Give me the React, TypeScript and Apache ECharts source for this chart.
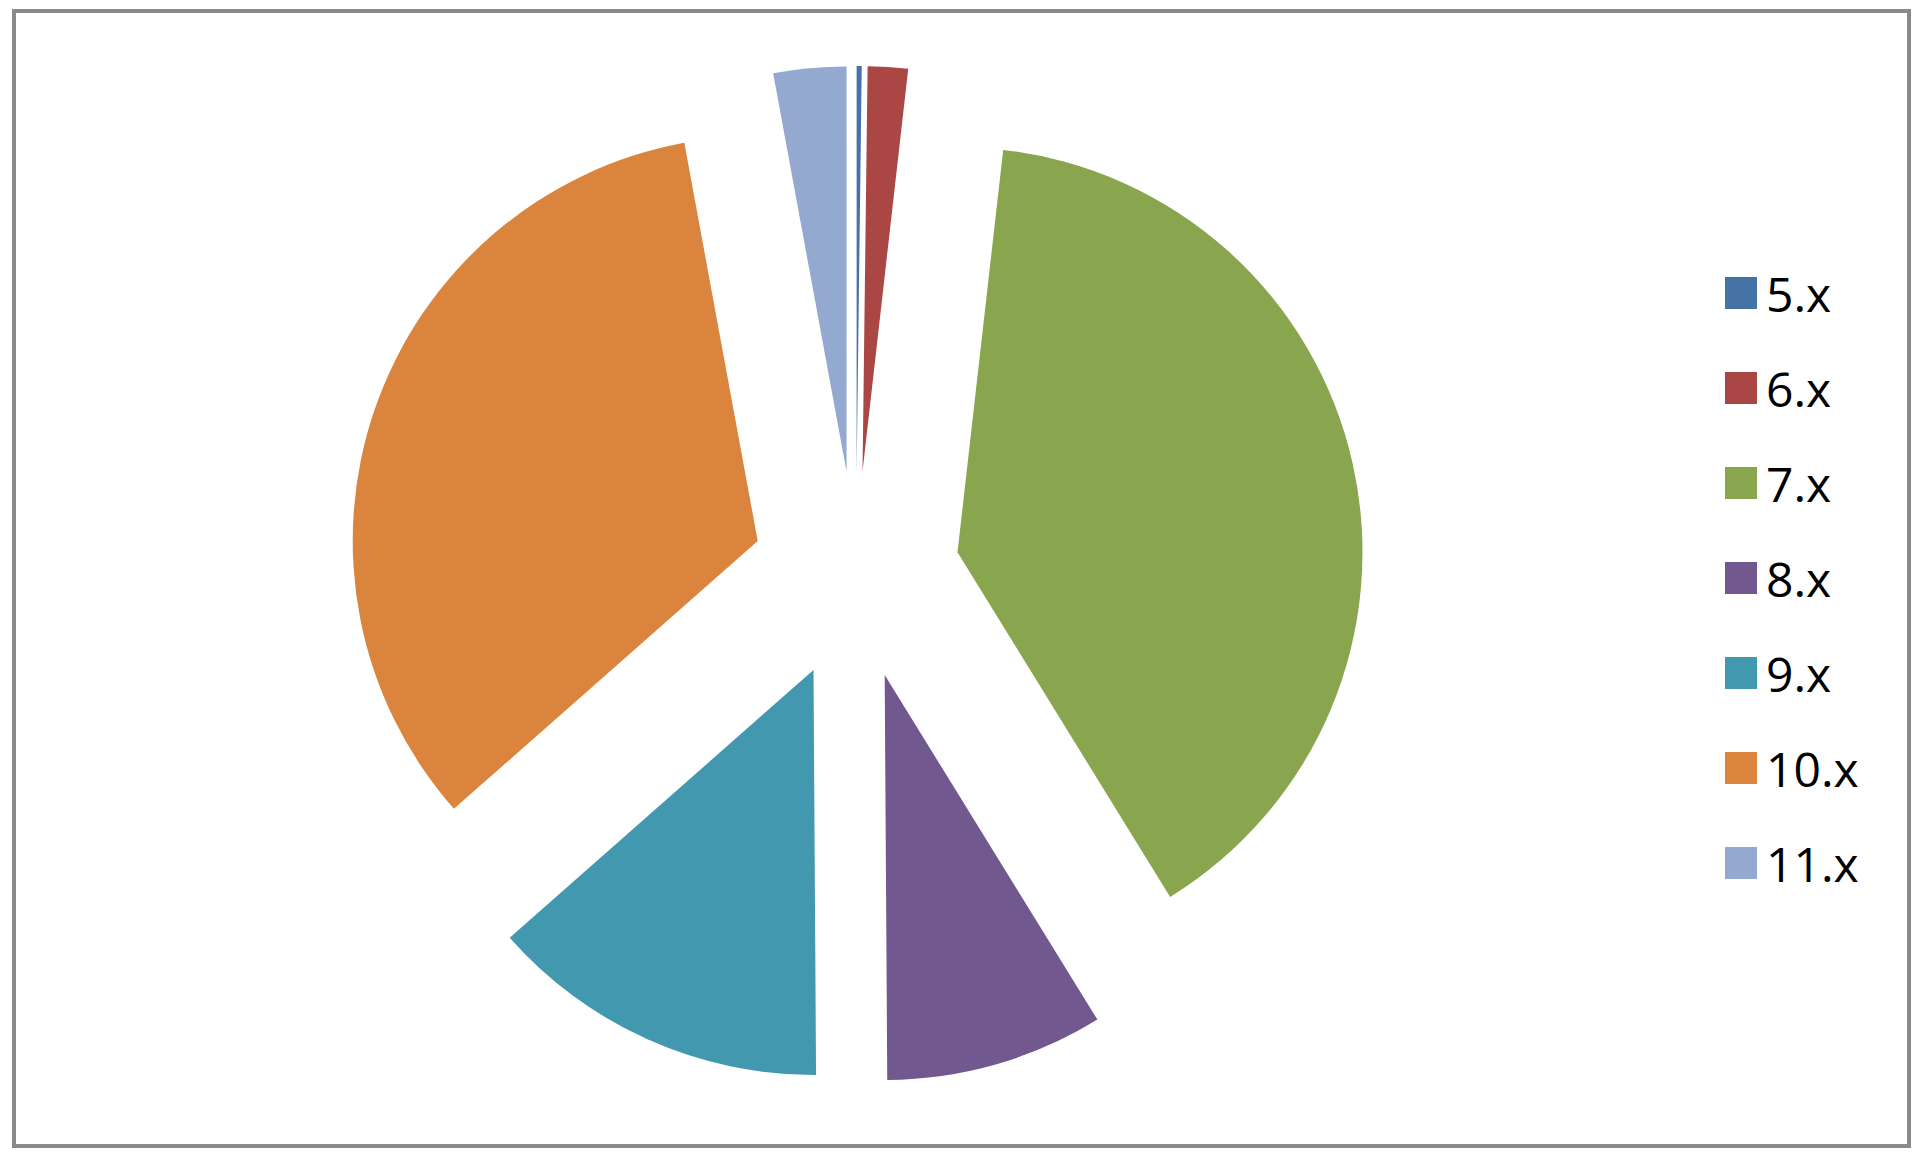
import React, { useEffect, useRef } from 'react';
import * as echarts from 'echarts';

const versions = ['5.x', '6.x', '7.x', '8.x', '9.x', '10.x', '11.x'];
const shares = [0.2, 1.6, 39.4, 8.7, 13.6, 33.6, 2.9];
const colors = ['#4572A7', '#AA4643', '#89A54E', '#71588F', '#4198AF', '#DB843D', '#93A9CF'];

const App = () => {
  const chartRef = useRef<HTMLDivElement>(null);

  useEffect(() => {
    if (!chartRef.current) return;

    const chart = echarts.init(chartRef.current, null, { renderer: 'svg' });

    chart.setOption({
      animation: false,
      color: colors,
      graphic: [
        {
          type: 'rect',
          shape: { x: 6, y: 3, width: 1895, height: 1135 },
          style: { fill: 'none', stroke: '#8a8a8a', lineWidth: 4 },
          silent: true,
        },
      ],
      legend: {
        orient: 'vertical',
        left: 1712,
        top: 256,
        itemWidth: 32,
        itemHeight: 32,
        itemGap: 47,
        icon: 'rect',
        data: versions,
        textStyle: {
          fontFamily: 'Open Sans',
          fontSize: 48,
          color: '#000',
          padding: [0, 0, 0, 4],
        },
      },
      series: [
        {
          type: 'pie',
          center: [848, 567],
          radius: 405,
          startAngle: 90,
          clockwise: true,
          selectedMode: 'multiple',
          selectedOffset: 104,
          avoidLabelOverlap: false,
          label: { show: false },
          labelLine: { show: false },
          itemStyle: { borderWidth: 0 },
          emphasis: { disabled: true },
          data: versions.map((name, i) => ({
            name,
            value: shares[i],
            selected: true,
          })),
        },
      ],
    });

    return () => {
      chart.dispose();
    };
  }, []);

  return <div ref={chartRef} style={{ width: 1904, height: 1142 }} />;
};

export default App;
